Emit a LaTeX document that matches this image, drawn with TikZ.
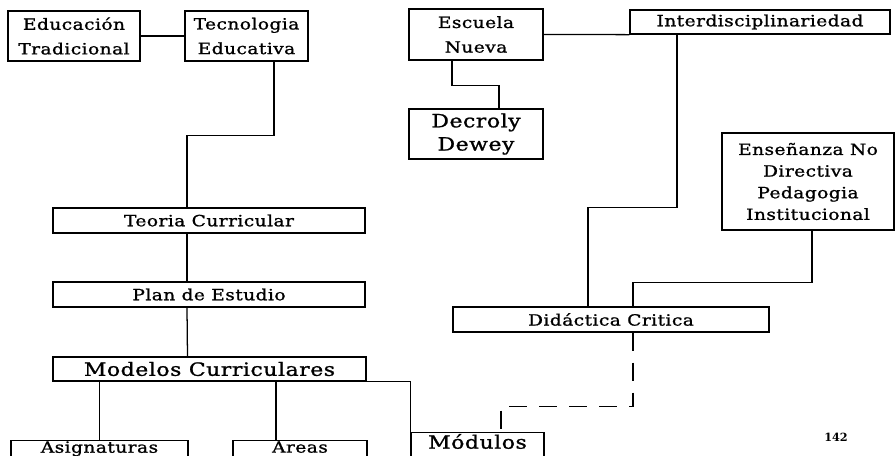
\documentclass[tikz,border=0pt]{standalone}
\usepackage{fontspec}
\setmainfont[FakeStretch = 1.2, LetterSpace = 3, FakeBold = 1.2]{DejaVu Serif}
\newfontfamily\numfont{DejaVu Serif}

\tikzset{
	caja/.style = {draw, line width = 0.9pt, inner sep = 0pt, align = center, font = \fontsize{11}{17.5}\selectfont},
	cajagrande/.style = {caja, font = \fontsize{13}{16.5}\selectfont},
	cajabaja/.style = {anchor = north, inner sep = 0.5pt, text depth = 12pt},
	enlace/.style = {line width = 0.9pt},
}

\begin{document}
\begin{tikzpicture}[x = 0.025cm, y = -0.025cm]
		\useasboundingbox (0, 0) rectangle (895, 455);
		\clip (0, 0) rectangle (895, 455);

		\node (edu) [caja, minimum width = 33mm, minimum height = 12.5mm] at (74, 36) {Educación\\Tradicional};
		\node (tec) [caja, minimum width = 30.75mm, minimum height = 12.5mm] at (246.5, 36) {Tecnologia\\Educativa};
		\node (esc) [caja, minimum width = 33.5mm, minimum height = 12.75mm] at (476, 34.5) {Escuela\\Nueva};
		\node (inter) [caja, minimum width = 65mm, minimum height = 6mm] at (760, 22) {Interdisciplinariedad};
		\node (dec) [cajagrande, minimum width = 33.5mm, minimum height = 12.5mm] at (476, 134) {Decroly\\Dewey};
		\node (ens) [caja, font = \fontsize{11}{15.4}\selectfont, minimum width = 43mm, minimum height = 24.25mm] at (808, 181.5) {Enseñanza No\\Directiva\\Pedagogia\\Institucional};

		\node (teo) [caja, minimum width = 78mm, minimum height = 6.25mm] at (209, 220.5) {Teoria Curricular};
		\node (plan) [caja, minimum width = 78mm, minimum height = 6.25mm] at (209, 294.5) {Plan de Estudio};
		\node (mod) [cajagrande, minimum width = 78.25mm, minimum height = 6mm] at (209.5, 369) {Modelos Curriculares};
		\node (did) [caja, minimum width = 79mm, minimum height = 6.25mm] at (611, 319.5) {Didáctica Critica};

		\node (asig) [caja, cajabaja, minimum width = 44.25mm] at (99.5, 440) {Asignaturas};
		\node (areas) [caja, cajabaja, minimum width = 33.5mm] at (300, 440) {Areas};
		\node (modu) [cajagrande, cajabaja, inner sep = 1pt, minimum width = 33.25mm] at (477.5, 432) {Módulos};

		\node (pag) [font = \numfont\bfseries\fontsize{8}{10}\selectfont] at (836, 437) {142};

		\draw [enlace] (edu) -- (tec);
		\draw [enlace] ([xshift = 6.875mm]tec.south) -- ++(0, 74) -| ([xshift = -5.5mm]teo.north);
		\draw [enlace] ([xshift = -5.5mm]teo.south) -- ([xshift = -5.5mm]plan.north);
		\draw [enlace] ([xshift = -5.5mm]plan.south) -- ([xshift = -5.5mm]mod.north);
		\draw [enlace] (asig.north) -- (asig.north |- mod.south);
		\draw [enlace] ([xshift = 16.625mm]mod.south) -- ([xshift = 16.625mm]mod.south |- areas.north);
		\draw [enlace] (mod.south east) -| (modu.north west);

		\draw [enlace] (esc.east) -- (inter.south west);
		\draw [enlace] ([xshift = -6mm]esc.south) -- ++(0, 25) -| ([xshift = 5.75mm]dec.north);
		\draw [enlace] ([xshift = -20.75mm]inter.south) -- ++(0, 173) -| ([xshift = -5.75mm]did.north);
		\draw [enlace] ([xshift = 1mm]ens.south) -- ++(0, 52) -| ([xshift = 5.5mm]did.north);
		\draw [enlace, dash pattern = on 4.5mm off 3mm] ([xshift = 5.5mm]did.south) -- ++(0, 74) -| ([xshift = 5.875mm]modu.north);
	\end{tikzpicture}
\end{document}
